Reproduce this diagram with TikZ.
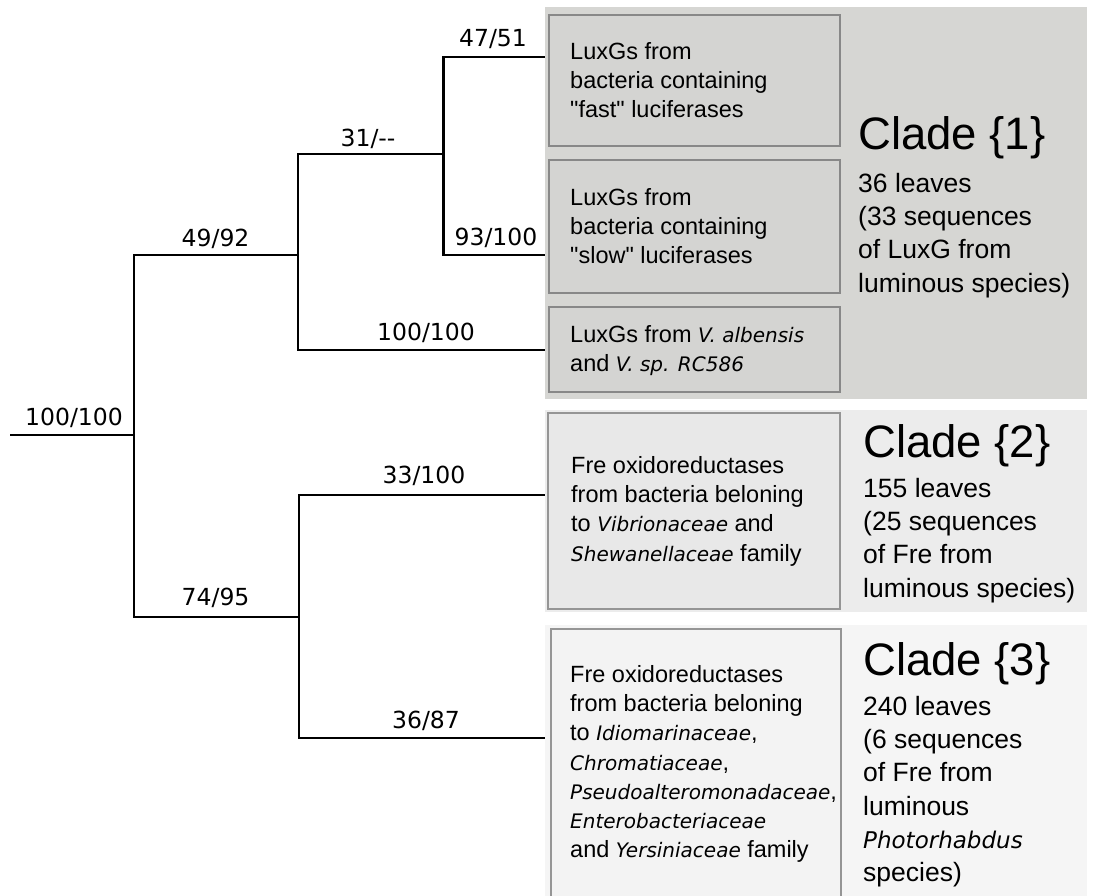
\documentclass[tikz,border=0pt]{standalone}
\usepackage{fontspec}
\setmainfont{Liberation Sans}
\newfontfamily\dejavu{DejaVu Sans}
\definecolor{bgA}{HTML}{D6D6D3}
\definecolor{boxA}{HTML}{D4D4D2}
\definecolor{bgB}{HTML}{ECECEC}
\definecolor{boxB}{HTML}{E8E8E8}
\definecolor{bgC}{HTML}{F5F5F5}
\definecolor{boxC}{HTML}{F3F3F3}
\definecolor{edgeA}{HTML}{888888}
\definecolor{edgeB}{HTML}{959595}
\newcommand\itx[1]{{\dejavu\itshape\fontsize{20}{29.3}\selectfont #1}}
\newcommand\itd[1]{{\dejavu\itshape\fontsize{23}{33.3}\selectfont #1}}
\newcommand\qq{\textquotedbl}
\tikzset{
  branch/.style={line width=2.8pt, line cap=rect},
  blabel/.style={anchor=base, inner sep=0pt, font=\dejavu\fontsize{23.5}{28}\selectfont},
  leafbox/.style={line width=2.2pt},
  boxtxt/.style={anchor=north west, inner sep=0pt, align=left, font=\fontsize{23.5}{29.3}\selectfont},
  cladetitle/.style={anchor=base west, inner sep=0pt, font=\fontsize{45.5}{50}\selectfont},
  cladedesc/.style={anchor=north west, inner sep=0pt, align=left, font=\fontsize{26.5}{33.3}\selectfont},
}
\begin{document}
\begin{tikzpicture}[x=1pt,y=-1pt]
\useasboundingbox[fill=white] (0,0) rectangle (1093,895);
% clade backgrounds
\fill[bgA] (545,7) rectangle (1087,399);
\fill[bgB] (545,410) rectangle (1087,612);
\fill[bgC] (545,625) rectangle (1087,900);
% leaf boxes
\draw[leafbox, draw=edgeA, fill=boxA] (549,15) rectangle (840,146);
\draw[leafbox, draw=edgeA, fill=boxA] (549,160) rectangle (840,293);
\draw[leafbox, draw=edgeA, fill=boxA] (549,307) rectangle (840,392);
\draw[leafbox, draw=edgeB, fill=boxB] (548,413) rectangle (840,609);
\draw[leafbox, draw=edgeB, fill=boxC] (551,629) rectangle (841,905);
% box texts
\node[boxtxt] (t1) at (570,38.4) {\strut LuxGs from\\bacteria containing\\\qq fast\qq{} luciferases};
\node[boxtxt] (t2) at (570,184.4) {\strut LuxGs from\\bacteria containing\\\qq slow\qq{} luciferases};
\node[boxtxt] (t3) at (570,321.4) {\strut LuxGs from \itx{V. albensis}\\and \itx{V. sp. RC586}};
\node[boxtxt] (t4) at (571,452.4) {\strut Fre oxidoreductases\\from bacteria beloning\\to \itx{Vibrionaceae} and\\\itx{Shewanellaceae} family};
\node[boxtxt] (t5) at (570,661.4) {\strut Fre oxidoreductases\\from bacteria beloning\\to \itx{Idiomarinaceae},\\\itx{Chromatiaceae},\\\itx{Pseudoalteromonadaceae},\\\itx{Enterobacteriaceae}\\and \itx{Yersiniaceae} family};
% clade texts
\node[cladetitle] (c1) at (858,149) {Clade \{1\}};
\node[cladedesc] (d1) at (858,168.7) {\strut 36 leaves\\(33 sequences\\of LuxG from\\luminous species)};
\node[cladetitle] (c2) at (863,457) {Clade \{2\}};
\node[cladedesc] (d2) at (863,473.7) {\strut 155 leaves\\(25 sequences\\of Fre from\\luminous species)};
\node[cladetitle] (c3) at (863,675) {Clade \{3\}};
\node[cladedesc] (d3) at (863,691.7) {\strut 240 leaves\\(6 sequences\\of Fre from\\luminous\\\itd{Photorhabdus}\\species)};
% tree coordinates
\coordinate (r0) at (11,435);
\coordinate (n0) at (134,435);
\coordinate (n0u) at (134,255);
\coordinate (n0d) at (134,617);
\coordinate (n1) at (298,255);
\coordinate (n1u) at (298,154);
\coordinate (n1d) at (298,350);
\coordinate (n2) at (443.7,154);
\coordinate (n2u) at (443.7,57);
\coordinate (n2d) at (443.7,255);
\coordinate (n3) at (299,617);
\coordinate (n3u) at (299,495);
\coordinate (n3d) at (299,738);
\coordinate (l1) at (544,57);
\coordinate (l2) at (544,255);
\coordinate (l3) at (544,350);
\coordinate (l4) at (544,495);
\coordinate (l5) at (544,738);
% branches
\draw[branch] (r0) -- (n0);
\draw[branch] (n0u) -- (n0d);
\draw[branch] (n0u) -- (n1);
\draw[branch] (n1u) -- (n1d);
\draw[branch] (n1u) -- (n2);
\draw[branch] (n2u) -- (n2d);
\draw[branch] (n2u) -- (l1);
\draw[branch] (n2d) -- (l2);
\draw[branch] (n1d) -- (l3);
\draw[branch] (n0d) -- (n3);
\draw[branch] (n3u) -- (n3d);
\draw[branch] (n3u) -- (l4);
\draw[branch] (n3d) -- (l5);
% branch labels
\node[blabel] (b0) at (74,425) {100/100};
\node[blabel] (b1) at (215.6,246.7) {49/92};
\node[blabel] (b2) at (368,146.7) {31/{-}{-}};
\node[blabel] (b3) at (493,46.7) {47/51};
\node[blabel] (b4) at (496,245) {93/100};
\node[blabel] (b5) at (426,340) {100/100};
\node[blabel] (b6) at (215.6,605) {74/95};
\node[blabel] (b7) at (424,483) {33/100};
\node[blabel] (b8) at (426,728) {36/87};
\end{tikzpicture}
\end{document}
